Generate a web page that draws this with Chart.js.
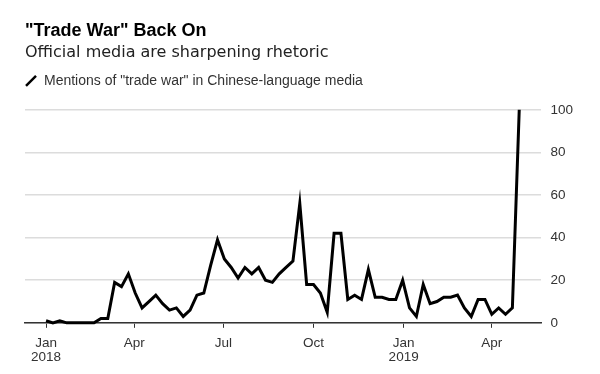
<!DOCTYPE html>
<html>
<head>
<meta charset="utf-8">
<script src="https://cdn.jsdelivr.net/npm/chart.js@4/dist/chart.umd.min.js"></script>
<style>
  html, body { margin: 0; padding: 0; background: #fff; }
  #wrap { width: 600px; height: 374px; }
</style>
</head>
<body>
<div id="wrap"><canvas id="chart"></canvas></div>
<script>
// weekly mentions, first week starting Jan 1 2018
const mentions = [1, 0, 1, 0, 0, 0, 0, 0, 2, 2,
  19, 17, 23, 14, 7, 10, 13, 9, 6, 7,
  3, 6, 13, 14, 27, 39, 30, 26, 21, 26,
  23, 26, 20, 19, 23, 26, 29, 56, 18, 18,
  14, 5, 42, 42, 11, 13, 11, 25, 12, 12,
  11, 11, 20, 7, 3, 18, 9, 10, 12, 12,
  13, 7, 3, 11, 11, 4, 7, 4, 7, 100];

// x axis ticks, in days since Jan 1 2018
const xTickDays = [0, 90, 181, 273, 365, 455];
const xTickLabels = [["Jan", "2018"], "Apr", "Jul", "Oct", ["Jan", "2019"], "Apr"];
const yTickValues = [0, 20, 40, 60, 80, 100];

const seriesLabel = 'Mentions of "trade war" in Chinese-language media';
const font = '"Liberation Sans", Arial, Helvetica, sans-serif';

const points = mentions.map((v, i) => ({ x: i * 7, y: v }));

// push the plot down a bit below the legend
const legendGap = {
  id: 'legendGap',
  beforeInit(chart) {
    const fit = chart.legend.fit;
    chart.legend.fit = function () {
      fit.bind(chart.legend)();
      this.height += 12;
    };
  }
};

new Chart(document.getElementById("chart"), {
  type: 'line',
  data: {
    datasets: [{
      label: seriesLabel,
      data: points,
      borderColor: '#000',
      borderWidth: 3,
      pointRadius: 0,
      tension: 0,
      clip: false
    }]
  },
  options: {
    responsive: true,
    maintainAspectRatio: false,
    animation: false,
    layout: { padding: { left: 25, right: 18, top: 0, bottom: 1 } },
    plugins: {
      tooltip: { enabled: false },
      title: {
        display: true,
        text: '"Trade War" Back On',
        align: 'start',
        color: '#000',
        font: { family: font, size: 18, weight: 'bold' },
        padding: { top: 20, bottom: 0 }
      },
      subtitle: {
        display: true,
        text: 'Official media are sharpening rhetoric',
        align: 'start',
        color: '#222',
        font: { family: '"DejaVu Sans", sans-serif', size: 16 },
        padding: { top: 2, bottom: 11 }
      },
      legend: {
        display: true,
        position: 'top',
        align: 'start',
        labels: {
          padding: 0,
          boxWidth: 12,
          boxHeight: 10,
          usePointStyle: true,
          color: '#333',
          font: { family: font, size: 14 },
          generateLabels: () => [{
            text: seriesLabel,
            pointStyle: 'line',
            rotation: -45,
            lineWidth: 2.5,
            strokeStyle: '#000',
            fillStyle: '#000',
            fontColor: '#333',
            datasetIndex: 0
          }]
        }
      }
    },
    scales: {
      x: {
        type: 'linear',
        min: -21.5,
        max: 505.7,
        afterBuildTicks: (axis) => { axis.ticks = xTickDays.map(v => ({ value: v })); },
        ticks: {
          autoSkip: false,
          maxRotation: 0,
          padding: 8,
          color: '#333',
          font: { family: font, size: 13.5, lineHeight: 1.08 },
          callback: (value) => xTickLabels[xTickDays.indexOf(value)]
        },
        grid: {
          drawOnChartArea: false,
          drawTicks: true,
          tickLength: 5,
          color: '#333',
          lineWidth: 1
        },
        border: { display: true, color: '#333', width: 1.5 }
      },
      y: {
        position: 'right',
        min: 0,
        max: 100,
        afterBuildTicks: (axis) => { axis.ticks = yTickValues.map(v => ({ value: v })); },
        ticks: {
          padding: 9,
          color: '#333',
          font: { family: font, size: 13.5 }
        },
        grid: {
          color: '#dcdcdc',
          lineWidth: 1.5,
          drawTicks: false
        },
        border: { display: false }
      }
    }
  },
  plugins: [legendGap]
});
</script>
</body>
</html>
